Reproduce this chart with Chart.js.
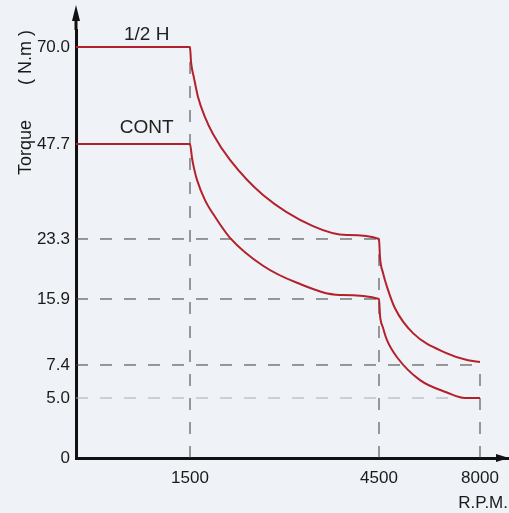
<!DOCTYPE html>
<html>
<head>
<meta charset="utf-8">
<script src="https://cdn.jsdelivr.net/npm/chart.js@4.4.1/dist/chart.umd.min.js"></script>
<style>
  html, body { margin: 0; padding: 0; background: #eff2f6; }
  #wrap { width: 509px; height: 513px; }
</style>
</head>
<body>
<div id="wrap"><canvas id="myChart"></canvas></div>
<script>
// axis ticks
var rpmTicks = [1500, 4500, 8000];
var rpmMax = 9000;
var torqueTicks = [0, 5.0, 7.4, 15.9, 23.3, 47.7, 70.0];
var torqueMax = 74;

// torque curves
var halfLabel = '1/2 H';
var halfRpm    = [0, 1500, 1516, 1563, 1627, 1738, 1865, 2135, 2659, 3452, 3992, 4500, 4535, 4639, 4777, 5054, 5678, 6856, 7584, 8000];
var halfTorque = [70, 70, 66.6, 62.9, 58.5, 53.9, 50.0, 43.6, 34.6, 26.6, 24.3, 23.3, 21.0, 19.1, 17.4, 14.7, 11.5, 8.9, 8.0, 7.8];

var contLabel = 'CONT';
var contRpm    = [0, 1500, 1532, 1563, 1611, 1738, 1897, 2135, 2659, 3198, 3881, 4500, 4535, 4639, 4777, 5124, 5921, 6856, 7480, 8000];
var contTorque = [47.7, 47.7, 44.1, 41.5, 38.5, 33.3, 29.0, 23.6, 20.0, 17.9, 16.4, 15.9, 13.8, 12.2, 10.6, 8.4, 6.3, 5.4, 5.0, 5.0];

// where the series names sit (rpm)
var labelRpm = 930;

// dashed guide lines
var levelTorque = [23.3, 15.9, 7.4];
var levelRpm = [4500, 4500, 8000];
var dropRpm = [1500, 4500, 8000];
var dropTorque = [70.0, 23.3, 7.4];
var faintTorque = 5.0;
var faintRpm = 8000;

function zip(xs, ys) {
  return xs.map(function (x, i) { return { x: x, y: ys[i] }; });
}

var guidePts = [];
levelTorque.forEach(function (t, i) {
  guidePts.push({ x: 0, y: t }, { x: levelRpm[i], y: t }, { x: levelRpm[i], y: null });
});
dropRpm.forEach(function (r, i) {
  guidePts.push({ x: r, y: 0 }, { x: r, y: dropTorque[i] }, { x: r, y: null });
});

// piecewise linear scale: the drawing is not to scale, ticks sit at fixed spots
function pieceMap(v, from, to) {
  for (var i = 1; i < from.length; i++) {
    if (v <= from[i] || i === from.length - 1) {
      var t = (v - from[i - 1]) / (from[i] - from[i - 1]);
      return to[i - 1] + t * (to[i] - to[i - 1]);
    }
  }
  return 0;
}

class StopScale extends Chart.LinearScale {
  getPixelForValue(value) {
    if (value === null || value === undefined || isNaN(value)) return NaN;
    var o = this.options;
    return this.getPixelForDecimal(pieceMap(value, o.stopValues, o.stopFractions));
  }
  getValueForPixel(pixel) {
    var o = this.options;
    return pieceMap(this.getDecimalForPixel(pixel), o.stopFractions, o.stopValues);
  }
}
StopScale.id = 'stops';
StopScale.defaults = Chart.LinearScale.defaults;
Chart.register(StopScale);

var FONT = '"Liberation Sans", Arial, sans-serif';
var RED = '#b3212c';

var decorations = {
  id: 'decorations',
  afterDraw: function (chart) {
    var ctx = chart.ctx, a = chart.chartArea;
    var xs = chart.scales.x, ys = chart.scales.y;
    ctx.save();
    ctx.strokeStyle = '#111';
    ctx.fillStyle = '#111';
    ctx.lineWidth = 3;
    // y arrow
    ctx.beginPath();
    ctx.moveTo(a.left, a.top);
    ctx.lineTo(a.left, 16);
    ctx.stroke();
    ctx.beginPath();
    ctx.moveTo(a.left, 5);
    ctx.lineTo(a.left - 4, 21);
    ctx.lineTo(a.left + 4, 21);
    ctx.closePath();
    ctx.fill();
    // x arrow
    ctx.beginPath();
    ctx.moveTo(a.right + 1, a.bottom);
    ctx.lineTo(a.right - 12, a.bottom - 4);
    ctx.lineTo(a.right - 12, a.bottom + 4);
    ctx.closePath();
    ctx.fill();

    // series names above the flat parts
    ctx.fillStyle = '#222';
    ctx.font = '19px ' + FONT;
    ctx.textAlign = 'center';
    ctx.textBaseline = 'alphabetic';
    var gaps = [7, 11];
    chart.data.datasets.slice(0, 2).forEach(function (ds, i) {
      var px = xs.getPixelForValue(labelRpm);
      var py = ys.getPixelForValue(ds.data[0].y);
      ctx.fillText(ds.label, px, py - gaps[i]);
    });
    ctx.restore();
  }
};

var ctx = document.getElementById('myChart').getContext('2d');
var myChart = new Chart(ctx, {
  type: 'line',
  data: {
    datasets: [{
      label: halfLabel,
      data: zip(halfRpm, halfTorque),
      borderColor: RED,
      borderWidth: 2,
      pointRadius: 0,
      cubicInterpolationMode: 'monotone'
    }, {
      label: contLabel,
      data: zip(contRpm, contTorque),
      borderColor: RED,
      borderWidth: 2,
      pointRadius: 0,
      cubicInterpolationMode: 'monotone'
    }, {
      label: 'guides',
      data: guidePts,
      borderColor: '#3c3c3c',
      borderWidth: 1,
      borderDash: [12, 12],
      pointRadius: 0,
      tension: 0
    }, {
      label: 'faint',
      data: [{ x: 0, y: faintTorque }, { x: faintRpm, y: faintTorque }],
      borderColor: '#a9adb3',
      borderWidth: 1,
      borderDash: [12, 12],
      pointRadius: 0,
      tension: 0
    }]
  },
  options: {
    responsive: true,
    maintainAspectRatio: false,
    animation: false,
    events: [],
    layout: { padding: { top: 30, right: 1, left: 0, bottom: 0 } },
    plugins: {
      legend: { display: false },
      tooltip: { enabled: false }
    },
    scales: {
      x: {
        type: 'stops',
        min: 0,
        max: rpmMax,
        bounds: 'data',
        stopValues: [0].concat(rpmTicks, [rpmMax]),
        stopFractions: [0, 0.2639, 0.7014, 0.9352, 1],
        afterBuildTicks: function (axis) {
          axis.ticks = rpmTicks.map(function (v) { return { value: v }; });
        },
        afterFit: function (axis) { axis.height = 55; },
        grid: { display: false, drawTicks: false },
        border: { display: true, color: '#111', width: 3 },
        ticks: {
          autoSkip: false,
          maxRotation: 0,
          padding: 10,
          color: '#1a1a1a',
          font: { family: FONT, size: 17 },
          callback: function (v) { return String(v); }
        },
        title: {
          display: true,
          text: 'R.P.M.',
          align: 'end',
          color: '#1a1a1a',
          padding: { top: 0, bottom: -1 },
          font: { family: FONT, size: 17 }
        }
      },
      y: {
        type: 'stops',
        min: 0,
        max: torqueMax,
        bounds: 'data',
        stopValues: torqueTicks.concat([torqueMax]),
        stopFractions: [0, 0.1402, 0.2173, 0.3715, 0.5117, 0.7336, 0.9603, 1],
        afterBuildTicks: function (axis) {
          axis.ticks = torqueTicks.map(function (v) { return { value: v }; });
        },
        afterFit: function (axis) { axis.width = 76; },
        grid: { display: false, drawTicks: false },
        border: { display: true, color: '#111', width: 3 },
        ticks: {
          autoSkip: false,
          padding: 6,
          color: '#1a1a1a',
          font: { family: FONT, size: 17 },
          callback: function (v) { return v === 0 ? '0' : v.toFixed(1); }
        },
        title: {
          display: true,
          text: 'Torque       ( N.m )',
          align: 'end',
          color: '#1a1a1a',
          padding: { top: 15, bottom: 0 },
          font: { family: FONT, size: 18 }
        }
      }
    }
  },
  plugins: [decorations]
});
</script>
</body>
</html>
